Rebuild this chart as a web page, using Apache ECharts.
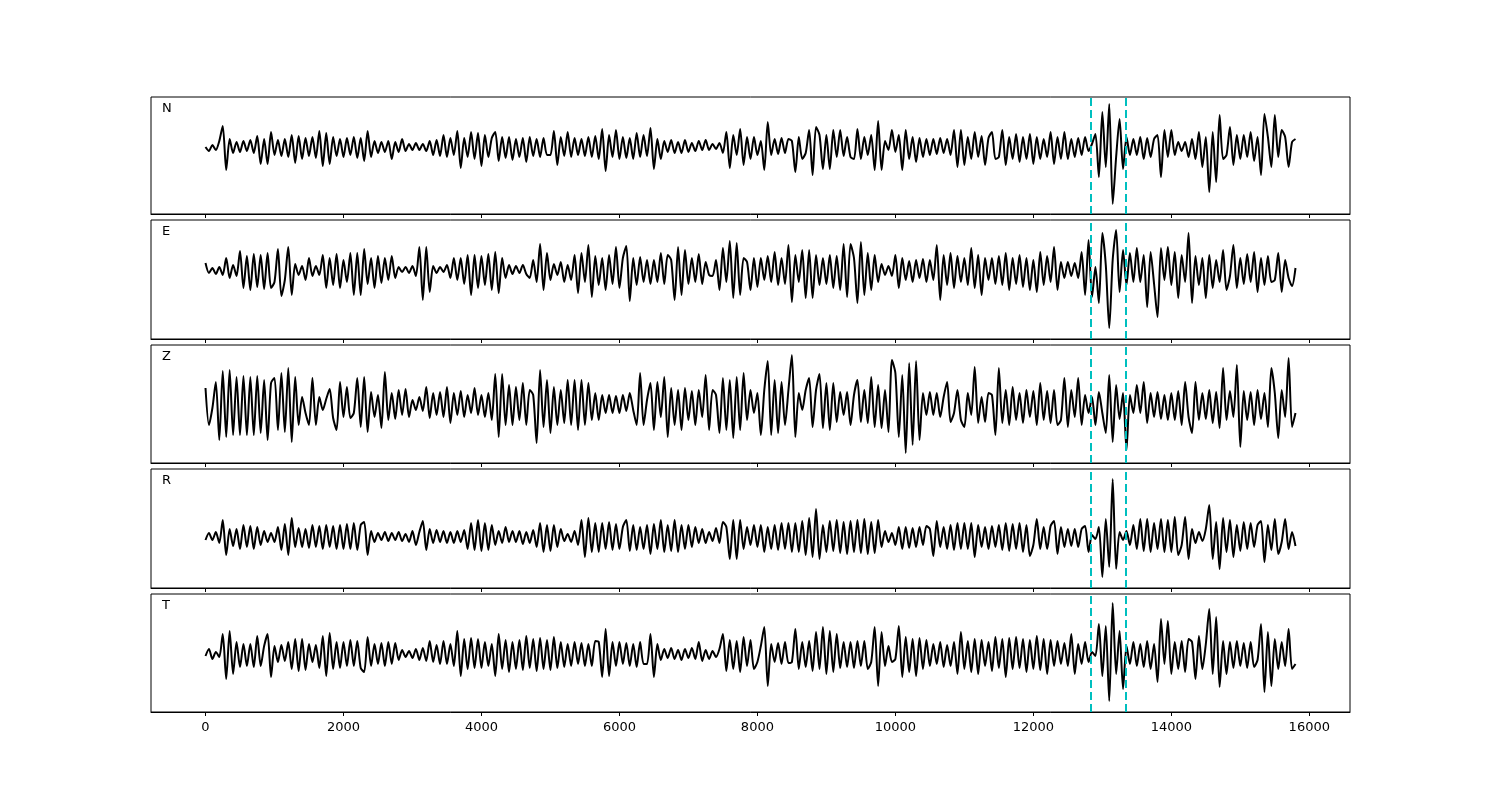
<!DOCTYPE html>
<html><head><meta charset="utf-8">
<script src="https://cdn.jsdelivr.net/npm/echarts@6/dist/echarts.min.js"></script>
<style>html,body{margin:0;padding:0;background:#fff}#c{width:1500px;height:800px}</style>
</head><body><div id="c"></div>
<script>
// ---------------- data ----------------
const channels = ['N', 'E', 'Z', 'R', 'T'];
const sampleStep = 50;            // time units between successive samples (first sample at 0)
const pickTimes = [12830, 13335]; // vertical dashed markers
const xTickValues = [0, 2000, 4000, 6000, 8000, 10000, 12000, 14000, 16000];
const xTickLabels = ['0', '2000', '4000', '6000', '8000', '10000', '12000', '14000', '16000'];

const traceN = [
 0,-4,2,-3,6,21,-23,8,-6,5, -5,6,-4,7,-6,11,-17,8,-17,15, -8,7,-9,8,-10,12,-16,11,-12,9,
 -9,10,-11,16,-19,14,-17,10,-9,8, -10,9,-8,10,-11,9,-14,16,-10,6, -6,5,-5,6,-12,5,-5,8,-4,3,
 -3,4,-3,3,-4,6,-8,7,-9,12, -10,9,-8,16,-21,9,-10,15,-12,14, -19,12,-10,9,15,-14,10,-11,10,-13,
 8,-10,9,-15,10,-9,8,-10,9,-8, -8,16,-18,10,-9,15,-10,9,-8,8, -9,10,-10,11,-12,18,-24,12,-10,17,
 -12,10,-11,9,-12,14,-10,12,-9,19, -22,8,-12,6,-5,7,-6,5,-6,7, -5,4,-4,6,-3,7,-3,3,-2,4,
 -6,15,-21,12,-8,18,-18,10,-12,10, -8,6,-23,25,-8,8,-7,9,-6,8, 6,-25,10,-12,-6,17,-28,20,12,-22,
 12,-22,17,-10,17,-9,10,-10,-12,18, -12,10,-8,12,-23,26,-23,6,-3,17, -5,12,-23,17,-12,10,-15,9,-10,8,
 -8,8,-7,9,-6,8,-8,17,-20,17, -18,10,-12,15,-10,11,-18,9,15,-12, -10,17,-18,10,-12,13,-15,10,-12,13,
 -17,10,-12,8,-10,15,-17,10,-12,15, -12,8,-10,9,-8,10,-4,3,13,-30, 35,-20,43,-57,-10,28,-22,10,-8,8,
 -8,10,-12,9,-10,8,12,-30,17,-10, 17,-8,5,-4,5,-10,8,-12,15,-20, 10,-45,15,-35,32,-12,-8,20,-18,12,
 -12,12,-10,15,-14,10,-28,33,10,-20, 32,-10,17,10,-20,5,8
];
const traceE = [
 7,-3,2,-4,3,-5,12,-8,5,-6, 19,-18,14,-20,16,-17,15,-19,17,-18, -12,21,-26,-10,23,-25,6,-5,4,-10,
 12,-6,4,-5,15,-18,12,-15,16,-18, 10,-12,17,-25,17,-25,21,-14,12,-18, 14,-13,12,-10,14,-8,3,-2,3,-3,
 4,-6,23,-30,23,-22,4,-3,3,-2, 5,-8,12,-10,12,-14,15,-25,15,-18, 14,-15,16,-20,18,-23,12,-8,5,-4,
 4,-3,5,-4,-8,10,-12,26,-20,17, -10,6,-5,8,-12,5,-10,15,-23,17, -12,25,-27,14,-15,12,-20,15,-14,23,
 -18,12,24,-31,12,-15,13,-12,10,-14, 10,-12,17,-14,15,10,-30,23,-25,20, -14,12,-12,16,-14,8,-5,-6,10,-20,
 22,-12,29,-28,27,-25,12,8,-20,12, -17,12,-10,14,-12,18,-15,12,-14,25, -32,15,-12,20,-28,20,-28,15,-15,12,
 -14,15,-18,14,-20,26,-27,26,12,-33, 28,-25,17,-20,15,-12,6,-5,4,-6, 15,-18,12,-10,9,-12,10,-8,11,-12,
 10,-10,25,-30,15,-15,17,-18,14,-12, 12,-15,22,-18,15,-25,12,-10,12,-14, 14,-15,17,-20,12,-14,15,-17,12,-20,
 10,-22,18,-15,14,-12,23,-20,8,-8, 8,-6,7,-8,18,-25,30,-27,3,-33, 37,5,-58,10,40,-22,20,-15,17,-12,
 22,-12,15,-37,18,-14,-47,22,-10,23, -15,18,-28,15,-12,37,-33,14,-15,12, -28,15,-18,10,-12,20,-20,-6,25,-18,
 12,-14,16,-12,18,-22,12,-15,14,-12, -10,17,-22,10,-8,-16,2
];
const traceZ = [
 17,-20,-3,23,-35,34,-32,35,-30,28, -30,29,-30,28,-30,29,-28,25,-35,22, 27,-25,32,-27,37,-37,28,-20,8,-8,
 -20,27,-20,8,-5,6,16,-13,-25,23, -12,18,-13,-8,27,-22,28,-27,13,-12, 10,-23,33,-15,12,-14,15,-10,16,-12,
 5,-5,8,-6,18,-13,12,-10,13,-12, 18,-18,12,-10,14,-12,10,-8,17,-10, 10,-12,12,-15,31,-32,31,-20,20,-20,
 18,-15,22,-20,15,10,-38,35,-22,25, -28,18,-20,15,-18,25,-20,25,-25,25, -20,22,-15,12,-15,10,-8,10,-8,9,
 -8,10,-6,12,-5,-20,32,-20,5,22, -25,23,-12,28,-32,17,-20,15,-25,17, -15,14,-20,15,-12,30,-25,15,10,-28,
 27,-25,25,-33,28,-25,32,-15,15,-8, 12,-30,15,44,-30,25,-28,23,-20,15, 50,-32,12,-5,15,27,-22,15,31,-23,
 22,-25,22,-17,13,-10,13,-20,10,25, -17,15,-18,28,-22,20,-23,15,-27,45, 32,-32,30,-48,42,-40,44,-35,12,-10,
 13,-10,12,-12,8,23,-17,-8,15,-15, -22,12,-10,38,-18,8,-17,12,10,-30, 37,-18,15,-20,18,-15,12,-18,15,-12,
 14,-20,22,-15,14,-18,15,-20,-15,27, -22,15,-12,27,-20,10,-8,8,-20,13, -8,-28,30,-37,20,-14,12,-45,10,-8,
 20,-8,23,-18,12,-12,13,-14,10,-15, 12,-15,14,-20,23,-12,-28,23,-15,12, -14,15,-18,13,-23,37,-15,14,-12,40,
 -42,14,-15,13,-20,15,-14,12,-22,37, 12,-33,15,-12,47,-22,-8
];
const traceR = [
 -3,4,-3,5,-6,17,-18,8,-9,8, -12,12,-10,11,-12,10,-8,6,-5,4, -5,10,-13,13,-18,19,-10,9,-10,8,
 -11,12,-10,11,-12,12,-10,11,-12,12, -12,13,-12,14,-13,12,15,-18,6,-5, 4,-3,5,-4,4,-3,5,-4,3,-5,
 6,-8,5,16,-13,8,-6,7,-5,6, -6,5,-6,6,-5,7,-12,14,-13,17, -14,14,-13,12,-8,6,-6,10,-5,6,
 -5,6,-7,5,-6,7,-10,14,-15,12, -14,12,-10,8,-4,3,-5,6,-8,17, -20,19,-15,14,-15,14,-12,15,-13,13,
 -12,10,17,-14,12,-13,10,-12,12,-17, 13,-12,17,-15,12,-14,17,-15,12,-12, 12,-10,10,-6,8,-6,5,-4,9,-6,
 15,10,-22,17,-22,17,-12,10,-8,12, -10,12,-15,10,-12,12,-13,14,-12,14, -15,14,-15,16,-18,19,-20,28,-22,12,
 -15,16,-14,17,-16,15,-17,16,-15,17, -16,18,-17,15,-16,17,-10,6,-5,4, -8,10,-12,10,-11,9,-10,10,-8,11,
 8,-19,16,-10,10,-12,12,-13,14,-12, 14,-12,14,-20,12,-10,10,-12,11,-10, 12,-13,14,-14,13,-12,14,-15,12,-19,
 -8,18,-12,10,-12,11,16,-17,10,-10, 8,-9,8,-10,8,11,-15,2,-2,10, -40,18,-30,58,-32,5,-3,6,-8,12,
 -12,18,-14,18,-15,14,-12,18,-15,17, -15,20,-18,-8,20,-22,8,-6,5,-4, 8,32,-22,15,-32,19,-15,17,-20,12,
 -14,15,-12,14,-10,12,16,-25,12,-13, 18,-17,-5,18,-12,5,-9
];
const traceT = [
 -2,5,-5,2,-3,20,-25,23,-20,12, -13,10,-12,10,-13,18,-12,8,20,-23, 8,-8,9,-7,12,-15,15,-17,15,-16,
 10,-8,9,-14,18,-22,21,-15,12,-14, 12,-12,14,-12,13,-14,-18,17,-12,10, -10,11,-12,12,-10,11,-6,4,-3,3,
 -4,5,-6,6,-7,13,-8,9,-10,13, -10,10,-12,23,-22,15,-15,16,-14,15, -14,12,-12,10,-22,20,-15,14,-18,12,
 -15,14,-16,18,-14,15,-17,16,-15,14, -16,17,-14,12,-13,10,-12,12,-10,11, -12,10,-12,13,12,-23,25,-22,12,-12,
 12,-10,11,-12,10,-13,12,-10,-10,20, -23,10,-6,5,-4,6,-5,4,-6,5, -4,6,-5,12,-7,4,-5,3,-3,5,
 20,-17,14,-15,13,-18,17,-12,14,-15, -8,8,27,-32,10,-8,11,-10,12,-9, -8,25,-15,12,-13,13,-17,22,-15,27,
 -20,23,-18,20,-14,12,-13,12,-14,13, -12,13,-15,-8,27,-32,22,-12,8,-8, -5,28,-23,17,-18,15,-22,16,-15,14,
 -12,10,-10,12,-13,9,-12,12,-20,22, -15,13,-18,15,-20,14,-12,12,-17,17, -14,15,-23,16,-15,17,-14,15,-18,14,
 -15,18,-16,15,-20,14,-12,13,-10,11, -12,20,-20,10,-10,12,-8,2,-2,30, -22,28,-47,51,-20,23,-35,8,-10,12,
 -12,10,-13,13,-15,10,-28,35,-10,33, -20,12,-15,13,-18,15,12,-25,18,-15, 10,45,-20,37,-33,13,-20,12,-14,13,
 -12,11,-14,12,-13,-6,30,-38,22,-32, 15,-15,12,-12,25,-15,-10
];

// ---------------- layout ----------------
const traces = [traceN, traceE, traceZ, traceR, traceT];
const panels = [
  {top: 97,  height: 117, min: -67, max: 50},
  {top: 220, height: 119, min: -69, max: 50},
  {top: 345, height: 118, min: -58, max: 60},
  {top: 469, height: 119, min: -51, max: 68},
  {top: 594, height: 118, min: -58, max: 60}
];
const plotLeft = 151, plotWidth = 1199;
const xMin = -790, xMax = 16590;
const FONT = '"DejaVu Sans", sans-serif';

const grids = [], xAxes = [], yAxes = [], series = [], graphics = [];
panels.forEach((p, k) => {
  const last = k === panels.length - 1;
  grids.push({left: plotLeft, width: plotWidth, top: p.top, height: p.height,
    show: true, borderColor: '#000', borderWidth: 1, backgroundColor: 'transparent'});
  xAxes.push({type: 'value', gridIndex: k, min: xMin, max: xMax,
    axisLine: {show: true, onZero: false, lineStyle: {color: '#000', width: 1}},
    axisTick: {show: true, length: 4, inside: false, customValues: xTickValues, lineStyle: {color: '#000', width: 1}},
    axisLabel: {show: last, customValues: xTickValues, color: '#000', fontSize: 13, fontFamily: FONT, margin: 9,
      formatter: v => { const i = xTickValues.indexOf(v); return i >= 0 ? xTickLabels[i] : String(v); }},
    splitLine: {show: false}});
  yAxes.push({type: 'value', gridIndex: k, min: p.min, max: p.max,
    axisLine: {show: false}, axisTick: {show: false}, axisLabel: {show: false}, splitLine: {show: false}});
  series.push({type: 'line', xAxisIndex: k, yAxisIndex: k,
    data: traces[k].map((v, i) => [i * sampleStep, v]),
    showSymbol: false, symbol: 'none', smooth: 0.25, animation: false,
    lineStyle: {color: '#000', width: 2}, z: 2,
    markLine: {silent: true, symbol: ['none', 'none'], animation: false,
      label: {show: false},
      lineStyle: {color: '#00bfbf', type: [8, 4], width: 2},
      emphasis: {disabled: true},
      data: pickTimes.map(t => ({xAxis: t}))}});
  graphics.push({type: 'text', left: 162, top: p.top + 5,
    style: {text: channels[k], font: '13px ' + FONT, fill: '#000'}});
});

const chart = echarts.init(document.getElementById('c'), null, {renderer: 'canvas'});
chart.setOption({
  animation: false,
  backgroundColor: '#fff',
  grid: grids, xAxis: xAxes, yAxis: yAxes, series: series, graphic: graphics
});
</script></body></html>
